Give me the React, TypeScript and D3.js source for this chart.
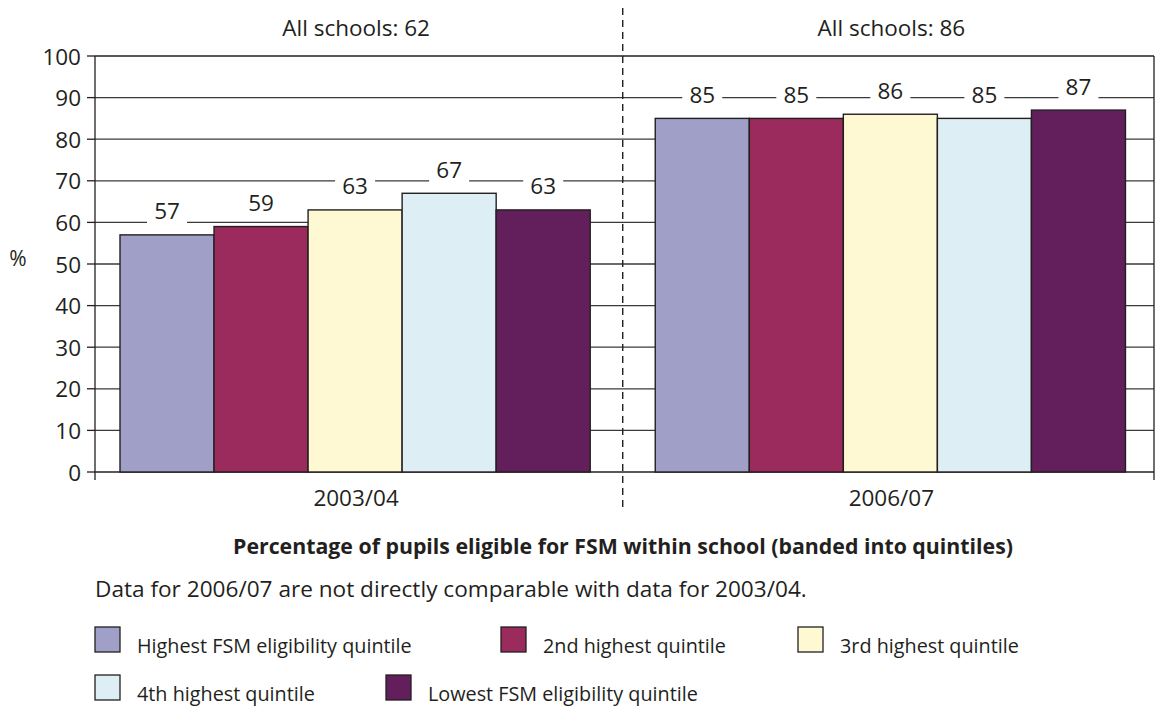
import React from "react";
import * as d3 from "d3";

const years = ["2003/04", "2006/07"];
const allSchools = [62, 86];
const quintiles = [
  "Highest FSM eligibility quintile",
  "2nd highest quintile",
  "3rd highest quintile",
  "4th highest quintile",
  "Lowest FSM eligibility quintile",
];
const values2003 = [57, 59, 63, 67, 63];
const values2006 = [85, 85, 86, 85, 87];
const yTicks = [0, 10, 20, 30, 40, 50, 60, 70, 80, 90, 100];
const colors = ["#a09fc8", "#9b2b5d", "#fef8d3", "#ddeef5", "#621f5b"];

const FONT = "'Open Sans', 'Noto Sans', sans-serif";
const W = 1155;
const H = 707;
const left = 95;
const right = 1154;
const top = 56;
const bottom = 472;

export default function App() {
  const series = [values2003, values2006];
  const y = d3.scaleLinear().domain([0, 100]).range([bottom, top]);
  const x0 = d3
    .scaleBand<string>()
    .domain(years)
    .range([left, right])
    .paddingInner(0.1215)
    .paddingOuter(0.05)
    .align(0.467);
  const x1 = d3.scaleBand<string>().domain(quintiles).range([0, x0.bandwidth()]).padding(0);

  const ink = "#231f20";

  // legend layout: two rows
  const legendItems = [
    { i: 0, x: 95, y: 627 },
    { i: 1, x: 501, y: 627 },
    { i: 2, x: 798, y: 627 },
    { i: 3, x: 95, y: 675 },
    { i: 4, x: 386, y: 675 },
  ];

  // dashed divider sits midway between the two groups of bars
  const divider = (x0(years[0])! + x0.bandwidth() + x0(years[1])!) / 2;

  return (
    <svg
      width={W}
      height={H}
      style={{ position: "fixed", left: 0, top: 0, background: "#fff" }}
      fontFamily={FONT}
    >
      {/* gridlines */}
      {yTicks.map((t) => (
        <line
          key={"g" + t}
          x1={left}
          x2={right}
          y1={y(t)}
          y2={y(t)}
          stroke={t === 0 || t === 100 ? ink : "#3a3a3a"}
          strokeWidth={1.3}
        />
      ))}
      {/* right border */}
      <line x1={right} x2={right} y1={top} y2={bottom + 8} stroke={ink} strokeWidth={1.3} />
      {/* y axis */}
      <line x1={left} x2={left} y1={top} y2={bottom + 8} stroke={ink} strokeWidth={1.3} />
      {yTicks.map((t) => (
        <g key={"t" + t}>
          <line x1={left - 8} x2={left} y1={y(t)} y2={y(t)} stroke={ink} strokeWidth={1.3} />
          <text
            x={left - 14}
            y={y(t)}
            textAnchor="end"
            dominantBaseline="central"
            fontSize={22.5}
            fill={ink}
          >
            {t}
          </text>
        </g>
      ))}
      <text x={18} y={258} textAnchor="middle" dominantBaseline="central" fontSize={21} fill={ink}>
        %
      </text>

      {/* value labels with knock-out backgrounds */}
      {years.map((yr, gi) =>
        quintiles.map((q, qi) => {
          const v = series[gi][qi];
          const cx = x0(yr)! + x1(q)! + x1.bandwidth() / 2;
          const cy = y(v) - 24;
          return (
            <g key={"l" + gi + qi}>
              <rect x={cx - 20} y={cy - 13} width={40} height={26} fill="#fff" />
              <text
                x={cx}
                y={cy}
                textAnchor="middle"
                dominantBaseline="central"
                fontSize={22.5}
                fill={ink}
              >
                {v}
              </text>
            </g>
          );
        })
      )}

      {/* bars */}
      {years.map((yr, gi) =>
        quintiles.map((q, qi) => {
          const v = series[gi][qi];
          return (
            <rect
              key={"b" + gi + qi}
              x={x0(yr)! + x1(q)!}
              y={y(v)}
              width={x1.bandwidth()}
              height={y(0) - y(v)}
              fill={colors[qi]}
              stroke={ink}
              strokeWidth={1.4}
            />
          );
        })
      )}

      {/* divider between periods */}
      <line
        x1={divider}
        x2={divider}
        y1={8}
        y2={508}
        stroke={ink}
        strokeWidth={1.4}
        strokeDasharray="7,5"
      />

      {/* period headers and category labels */}
      {years.map((yr, gi) => {
        const cx = x0(yr)! + x0.bandwidth() / 2 + 1;
        return (
          <g key={"h" + yr}>
            <text x={cx} y={27} textAnchor="middle" dominantBaseline="central" fontSize={22.5} fill={ink}>
              {`All schools: ${allSchools[gi]}`}
            </text>
            <text x={cx} y={497} textAnchor="middle" dominantBaseline="central" fontSize={22.5} fill={ink}>
              {yr}
            </text>
          </g>
        );
      })}

      <text
        x={623}
        y={545}
        textAnchor="middle"
        dominantBaseline="central"
        fontSize={21.3}
        fontWeight="bold"
        fill={ink}
      >
        Percentage of pupils eligible for FSM within school (banded into quintiles)
      </text>
      <text x={95} y={588} dominantBaseline="central" fontSize={22.6} fill={ink}>
        Data for 2006/07 are not directly comparable with data for 2003/04.
      </text>

      {/* legend */}
      {legendItems.map(({ i, x, y: ly }) => (
        <g key={"lg" + i}>
          <rect x={x} y={ly} width={25} height={25} fill={colors[i]} stroke={ink} strokeWidth={1.3} />
          <text x={x + 42} y={ly + 18} dominantBaseline="central" fontSize={19.8} fill={ink}>
            {quintiles[i]}
          </text>
        </g>
      ))}
    </svg>
  );
}
